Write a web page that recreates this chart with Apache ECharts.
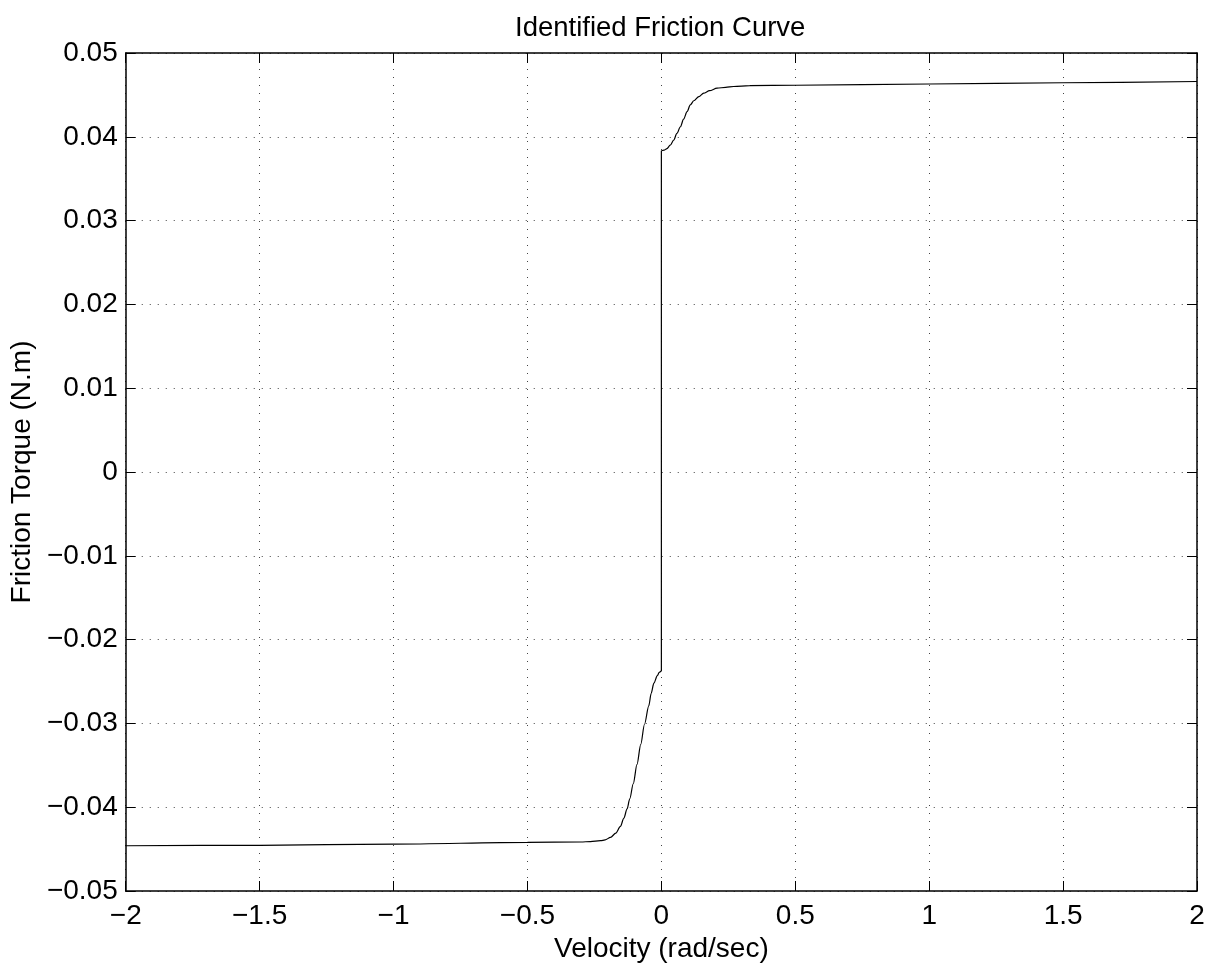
<!DOCTYPE html>
<html>
<head>
<meta charset="utf-8">
<script src="https://cdn.jsdelivr.net/npm/echarts@6/dist/echarts.min.js"></script>
<style>html,body{margin:0;padding:0;background:#fff;}#c{width:1215px;height:968px;}</style>
</head>
<body>
<div id="c"></div>
<script>
const titleText = 'Identified Friction Curve';
const xLabel = 'Velocity (rad/sec)';
const yLabel = 'Friction Torque (N.m)';

const negVelocity = [-2, -1.5, -1, -0.5, -0.3, -0.265, -0.227, -0.21, -0.19, -0.17, -0.153, -0.14, -0.128, -0.118, -0.105, -0.091, -0.077, -0.063, -0.047, -0.038, -0.028, -0.015, -0.008, 0];
const negTorque = [-0.0446, -0.04455, -0.0444, -0.0442, -0.04415, -0.0441, -0.0440, -0.0439, -0.0436, -0.0431, -0.0423, -0.0413, -0.0402, -0.0390, -0.0372, -0.0349, -0.0325, -0.0301, -0.0279, -0.0264, -0.0252, -0.0243, -0.0239, -0.02375];

const posVelocity = [0, 0.01, 0.021, 0.033, 0.046, 0.058, 0.071, 0.083, 0.096, 0.108, 0.121, 0.14, 0.158, 0.18, 0.208, 0.24, 0.27, 0.33, 0.5, 1, 1.5, 2];
const posTorque = [0.03834, 0.0384, 0.0386, 0.0390, 0.0396, 0.0404, 0.0412, 0.0421, 0.0430, 0.0438, 0.0443, 0.0448, 0.0452, 0.0455, 0.0458, 0.0459, 0.0460, 0.0461, 0.04615, 0.0463, 0.04645, 0.0466];

const xTicks = [-2, -1.5, -1, -0.5, 0, 0.5, 1, 1.5, 2];
const yTicks = [-0.05, -0.04, -0.03, -0.02, -0.01, 0, 0.01, 0.02, 0.03, 0.04, 0.05];

const FONT = 'Liberation Sans, Arial, sans-serif';
function fmt(v, d) {
  if (Math.abs(v) < 1e-12) return '0';
  let s = String(parseFloat(v.toFixed(d)));
  return s.replace('-', '\u2212');
}

const chart = echarts.init(document.getElementById('c'), null, {renderer: 'canvas'});
const lineStyle = {color: '#000', width: 1.2};
const common = {type: 'line', symbol: 'none', lineStyle: lineStyle, animation: false, silent: true};

const gridSplit = {show: true, lineStyle: {color: '#444', type: [1, 7], width: 1}};
const axisLineStyle = {show: true, onZero: false, lineStyle: {color: '#000', width: 1.5}};
const tickIn = {show: true, inside: true, length: 10, lineStyle: {color: '#000', width: 1}};

chart.setOption({
  backgroundColor: '#fff',
  animation: false,
  title: {
    text: titleText, left: 510, top: 9,
    textStyle: {fontFamily: FONT, fontSize: 27.5, fontWeight: 'normal', color: '#000'}
  },
  grid: {left: 125, top: 53, right: 18, bottom: 77, containLabel: false},
  xAxis: [{
    type: 'value', min: -2, max: 2, interval: 0.5, position: 'bottom',
    name: xLabel, nameLocation: 'middle', nameGap: 33,
    nameTextStyle: {fontFamily: FONT, fontSize: 28, color: '#000'},
    axisLine: axisLineStyle, axisTick: tickIn,
    axisLabel: {fontFamily: FONT, fontSize: 28, color: '#000', margin: 11, formatter: v => fmt(v, 1)},
    splitLine: gridSplit
  }, {
    type: 'value', min: -2, max: 2, interval: 0.5, position: 'top',
    axisLine: axisLineStyle, axisTick: tickIn, axisLabel: {show: false}, splitLine: {show: false}
  }],
  yAxis: [{
    type: 'value', min: -0.05, max: 0.05, interval: 0.01, position: 'left',
    name: yLabel, nameLocation: 'middle', nameGap: 78,
    nameTextStyle: {fontFamily: FONT, fontSize: 28, color: '#000'},
    axisLine: axisLineStyle, axisTick: tickIn,
    axisLabel: {fontFamily: FONT, fontSize: 28, color: '#000', margin: 8, formatter: v => fmt(v, 2)},
    splitLine: gridSplit
  }, {
    type: 'value', min: -0.05, max: 0.05, interval: 0.01, position: 'right',
    axisLine: axisLineStyle, axisTick: tickIn, axisLabel: {show: false}, splitLine: {show: false}
  }],
  series: [
    Object.assign({}, common, {smooth: 0.3, smoothMonotone: 'x', data: negVelocity.map((v, i) => [v, negTorque[i]])}),
    Object.assign({}, common, {smooth: false, data: [[0, negTorque[negTorque.length - 1]], [0, posTorque[0]]]}),
    Object.assign({}, common, {smooth: 0.3, smoothMonotone: 'x', data: posVelocity.map((v, i) => [v, posTorque[i]])})
  ]
});
</script>
</body>
</html>
